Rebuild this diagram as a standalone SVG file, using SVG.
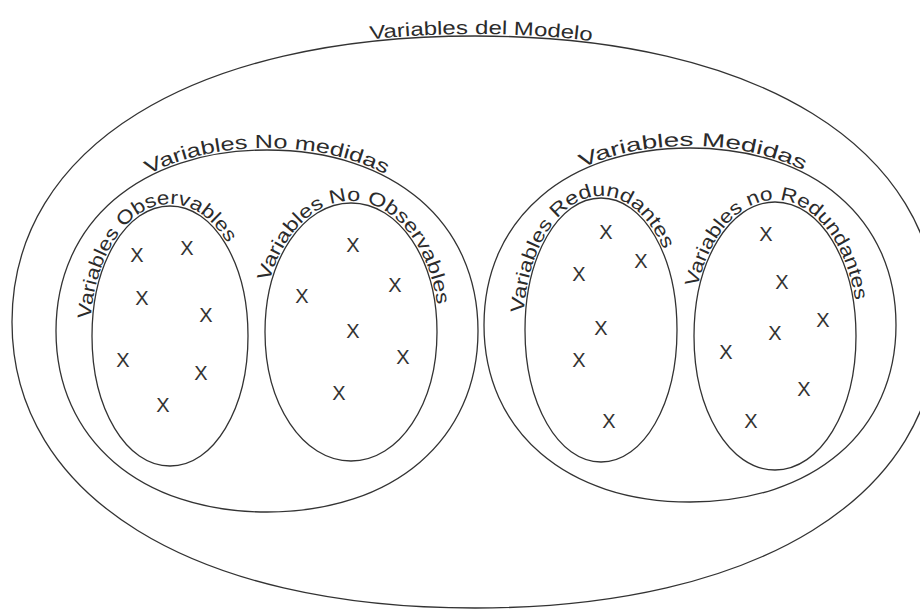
<svg xmlns="http://www.w3.org/2000/svg" xmlns:xlink="http://www.w3.org/1999/xlink" width="920" height="610" viewBox="0 0 920 610">
<style>
.sh{fill:none;stroke:#333;stroke-width:1.3}
.lb{font-family:"Liberation Sans",Arial,sans-serif;font-size:19px;fill:#2b2b2b}
.x{font-family:"Liberation Sans",Arial,sans-serif;font-size:20px;fill:#333;text-anchor:middle}
</style>
<defs>
<path id="tp-outer" d="M10,322 C10,146.3 191.3,34 475,34 C758.7,34 940,146.3 940,322 C940,497.7 758.7,610 475,610 C191.3,610 10,497.7 10,322Z"/>
<path id="tp-nomed" d="M54,331 C54,221.2 139.2,148 267,148 C394.8,148 480,221.2 480,331 C480,440.8 394.8,514 267,514 C139.2,514 54,440.8 54,331Z"/>
<path id="tp-obs" d="M90,336 C90,262.1 125.2,204 170,204 C214.8,204 250,262.1 250,336 C250,409.9 214.8,468 170,468 C125.2,468 90,409.9 90,336Z"/>
<path id="tp-noobs" d="M263,332 C263,258.6 301.7,201 351,201 C400.3,201 439,258.6 439,332 C439,405.4 400.3,463 351,463 C301.7,463 263,405.4 263,332Z"/>
<path id="tp-med" d="M482,325 C482,217.6 565.2,146 690,146 C814.8,146 898,217.6 898,325 C898,432.4 814.8,504 690,504 C565.2,504 482,432.4 482,325Z"/>
<path id="tp-red" d="M523,330 C523,255 557.3,196 601,196 C644.7,196 679,255 679,330 C679,405 644.7,464 601,464 C557.3,464 523,405 523,330Z"/>
<path id="tp-nored" d="M692,336 C692,259.8 728.5,200 775,200 C821.5,200 858,259.8 858,336 C858,412.2 821.5,472 775,472 C728.5,472 692,412.2 692,336Z"/>
</defs>
<rect width="920" height="610" fill="#fff"/>

<g id="modelo">
<path class="sh" d="M12,322 C12,147.5 192.6,36 475,36 C757.4,36 938,147.5 938,322 C938,496.5 757.4,608 475,608 C192.6,608 12,496.5 12,322Z"/>
<text class="lb"><textPath xlink:href="#tp-outer" href="#tp-outer" startOffset="25.25%" text-anchor="middle" textLength="222" lengthAdjust="spacingAndGlyphs">Variables del Modelo</textPath></text>
</g>

<g id="no-medidas">
<path class="sh" d="M56,331 C56,222.4 140.4,150 267,150 C393.6,150 478,222.4 478,331 C478,439.6 393.6,512 267,512 C140.4,512 56,439.6 56,331Z"/>
<text class="lb"><textPath xlink:href="#tp-nomed" href="#tp-nomed" startOffset="25%" text-anchor="middle" textLength="245" lengthAdjust="spacingAndGlyphs">Variables No medidas</textPath></text>
</g>

<g id="observables">
<path class="sh" d="M92,336 C92,263.2 126.3,206 170,206 C213.7,206 248,263.2 248,336 C248,408.8 213.7,466 170,466 C126.3,466 92,408.8 92,336Z"/>
<text class="lb"><textPath xlink:href="#tp-obs" href="#tp-obs" startOffset="2.5%" textLength="225" lengthAdjust="spacingAndGlyphs">Variables Observables</textPath></text>
<text class="x" x="137" y="262">X</text>
<text class="x" x="187" y="255">X</text>
<text class="x" x="142" y="305">X</text>
<text class="x" x="206" y="322">X</text>
<text class="x" x="123" y="367">X</text>
<text class="x" x="201" y="380">X</text>
<text class="x" x="163" y="412">X</text>
</g>

<g id="no-observables">
<path class="sh" d="M265,332 C265,259.8 302.8,203 351,203 C399.2,203 437,259.8 437,332 C437,404.2 399.2,461 351,461 C302.8,461 265,404.2 265,332Z"/>
<text class="lb"><textPath xlink:href="#tp-noobs" href="#tp-noobs" startOffset="7.3%" textLength="270" lengthAdjust="spacingAndGlyphs">Variables No Observables</textPath></text>
<text class="x" x="353" y="252">X</text>
<text class="x" x="395" y="292">X</text>
<text class="x" x="302" y="303">X</text>
<text class="x" x="353" y="338">X</text>
<text class="x" x="403" y="364">X</text>
<text class="x" x="339" y="400">X</text>
</g>

<g id="medidas">
<path class="sh" d="M484,325 C484,218.8 566.4,148 690,148 C813.6,148 896,218.8 896,325 C896,431.2 813.6,502 690,502 C566.4,502 484,431.2 484,325Z"/>
<text class="lb"><textPath xlink:href="#tp-med" href="#tp-med" startOffset="25.25%" text-anchor="middle" textLength="228" lengthAdjust="spacingAndGlyphs">Variables Medidas</textPath></text>
</g>

<g id="redundantes">
<path class="sh" d="M525,330 C525,256.1 558.4,198 601,198 C643.6,198 677,256.1 677,330 C677,403.9 643.6,462 601,462 C558.4,462 525,403.9 525,330Z"/>
<text class="lb"><textPath xlink:href="#tp-red" href="#tp-red" startOffset="2.5%" textLength="240" lengthAdjust="spacingAndGlyphs">Variables Redundantes</textPath></text>
<text class="x" x="606" y="239">X</text>
<text class="x" x="641" y="268">X</text>
<text class="x" x="579" y="281">X</text>
<text class="x" x="601" y="335">X</text>
<text class="x" x="579" y="367">X</text>
<text class="x" x="609" y="428">X</text>
</g>

<g id="no-redundantes">
<path class="sh" d="M694,336 C694,261 729.6,202 775,202 C820.4,202 856,261 856,336 C856,411 820.4,470 775,470 C729.6,470 694,411 694,336Z"/>
<text class="lb"><textPath xlink:href="#tp-nored" href="#tp-nored" startOffset="7%" textLength="265" lengthAdjust="spacingAndGlyphs">Variables no Redundantes</textPath></text>
<text class="x" x="766" y="241">X</text>
<text class="x" x="782" y="289">X</text>
<text class="x" x="823" y="327">X</text>
<text class="x" x="775" y="340">X</text>
<text class="x" x="726" y="359">X</text>
<text class="x" x="804" y="396">X</text>
<text class="x" x="751" y="428">X</text>
</g>
</svg>
